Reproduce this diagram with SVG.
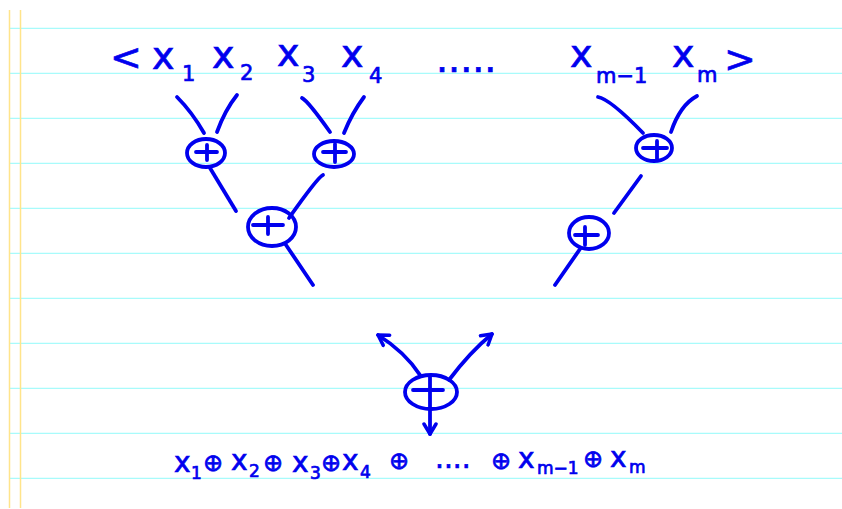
<svg xmlns="http://www.w3.org/2000/svg" width="842" height="509" viewBox="0 0 842 509">
<defs>
<style>
.rule{stroke:#a8fbfb;stroke-width:1.3}
.margin{stroke:#ffe48a;stroke-width:1.5}
.ink{fill:none;stroke:#0000ee;stroke-width:3.8;stroke-linecap:round;stroke-linejoin:round}
.t{font-family:"DejaVu Sans",sans-serif;fill:#0000ee;stroke:#0000ee;stroke-width:0.7}
.big{font-size:38px}
.sub{font-size:21px}
.mid{font-size:28px}
.op{font-size:24px}
.msub{font-size:17px}
</style>
<marker id="arr" viewBox="-12 -8 14 16" markerWidth="14" markerHeight="16" refX="0" refY="0" orient="auto" markerUnits="userSpaceOnUse">
<path d="M-10,-6 L0,0 L-10,6" fill="none" stroke="#0000ee" stroke-width="3.5" stroke-linecap="round" stroke-linejoin="round"/>
</marker>
</defs>
<rect width="842" height="509" fill="#ffffff"/>
<g id="paper">
<line class="rule" x1="9" y1="28.3" x2="842" y2="28.3"/>
<line class="rule" x1="9" y1="73.3" x2="842" y2="73.3"/>
<line class="rule" x1="9" y1="118.3" x2="842" y2="118.3"/>
<line class="rule" x1="9" y1="163.3" x2="842" y2="163.3"/>
<line class="rule" x1="9" y1="208.3" x2="842" y2="208.3"/>
<line class="rule" x1="9" y1="253.3" x2="842" y2="253.3"/>
<line class="rule" x1="9" y1="298.3" x2="842" y2="298.3"/>
<line class="rule" x1="9" y1="343.3" x2="842" y2="343.3"/>
<line class="rule" x1="9" y1="388.3" x2="842" y2="388.3"/>
<line class="rule" x1="9" y1="433.3" x2="842" y2="433.3"/>
<line class="rule" x1="9" y1="478.3" x2="842" y2="478.3"/>
<line class="margin" x1="9.5" y1="10" x2="9.5" y2="508"/>
<line class="margin" x1="20.5" y1="10" x2="20.5" y2="508"/>
</g>
<g id="input-sequence">
<text class="t big" x="110" y="70">&lt;</text>
<text class="t big" x="152" y="69">x</text><text class="t sub" x="182" y="81">1</text>
<text class="t big" x="212" y="68">x</text><text class="t sub" x="240" y="80">2</text>
<text class="t big" x="277" y="66">x</text><text class="t sub" x="302" y="82">3</text>
<text class="t big" x="341" y="67">x</text><text class="t sub" x="369" y="83">4</text>
<text class="t big" x="436" y="72">.....</text>
<text class="t big" x="570" y="67">x</text><text class="t sub" x="596" y="83">m−1</text>
<text class="t big" x="672" y="67">x</text><text class="t sub" x="697" y="82">m</text>
<text class="t big" x="724" y="72">&gt;</text>
</g>
<g id="connectors">
<path class="ink" d="M177,97 Q192,112 204,133"/>
<path class="ink" d="M237,95 Q225,110 217,132"/>
<path class="ink" d="M302,98 Q308,101 330,132"/>
<path class="ink" d="M364,97 Q352,113 344,133"/>
<path class="ink" d="M210,168 L236,211"/>
<path class="ink" d="M323,175 Q318,177 289,218"/>
<path class="ink" d="M286,245 L313,285"/>
<path class="ink" d="M598,97 Q610,99 643,133"/>
<path class="ink" d="M697,96 Q680,105 671,132"/>
<path class="ink" d="M641,176 L614,213"/>
<path class="ink" d="M580,249 L555,285"/>
<path class="ink" d="M420,375 Q405,352 378,335" marker-end="url(#arr)"/>
<path class="ink" d="M449,380 Q470,352 492,334" marker-end="url(#arr)"/>
<path class="ink" d="M430,377 L430,434" marker-end="url(#arr)"/>
</g>
<g id="node-x1x2">
<ellipse class="ink" cx="206" cy="153" rx="19" ry="14"/>
<path class="ink" d="M196,152 H217 M207,145 V160"/>
</g>
<g id="node-x3x4">
<ellipse class="ink" cx="334" cy="154" rx="20" ry="13"/>
<path class="ink" d="M323,152 H346 M335,144 V162"/>
</g>
<g id="node-x1x4">
<ellipse class="ink" cx="272" cy="227" rx="24" ry="19"/>
<path class="ink" d="M253,225 H283 M268,217 V234"/>
</g>
<g id="node-xm1xm">
<ellipse class="ink" cx="654" cy="148" rx="18" ry="13"/>
<path class="ink" d="M643,148 H667 M657,141 V160"/>
</g>
<g id="node-right-partial">
<ellipse class="ink" cx="589" cy="233" rx="20" ry="16"/>
<path class="ink" d="M575,235 H598 M585,227 V245"/>
</g>
<g id="node-final">
<ellipse class="ink" cx="431" cy="392" rx="26" ry="17"/>
<path class="ink" d="M413,390 H443"/>
</g>
<g id="result">
<text class="t mid" x="174" y="472">x</text><text class="t msub" x="191" y="479">1</text>
<text class="t op" x="203" y="471">⊕</text>
<text class="t mid" x="231" y="470">x</text><text class="t msub" x="249" y="477">2</text>
<text class="t op" x="263" y="471">⊕</text>
<text class="t mid" x="292" y="472">x</text><text class="t msub" x="310" y="479">3</text>
<text class="t op" x="321" y="471">⊕</text>
<text class="t mid" x="342" y="470">x</text><text class="t msub" x="360" y="478">4</text>
<text class="t op" x="389" y="469">⊕</text>
<text class="t mid" x="435" y="468">....</text>
<text class="t op" x="491" y="469">⊕</text>
<text class="t mid" x="518" y="468">x</text><text class="t msub" x="537" y="474">m−1</text>
<text class="t op" x="583" y="467">⊕</text>
<text class="t mid" x="610" y="467">x</text><text class="t msub" x="629" y="473">m</text>
</g>
</svg>
